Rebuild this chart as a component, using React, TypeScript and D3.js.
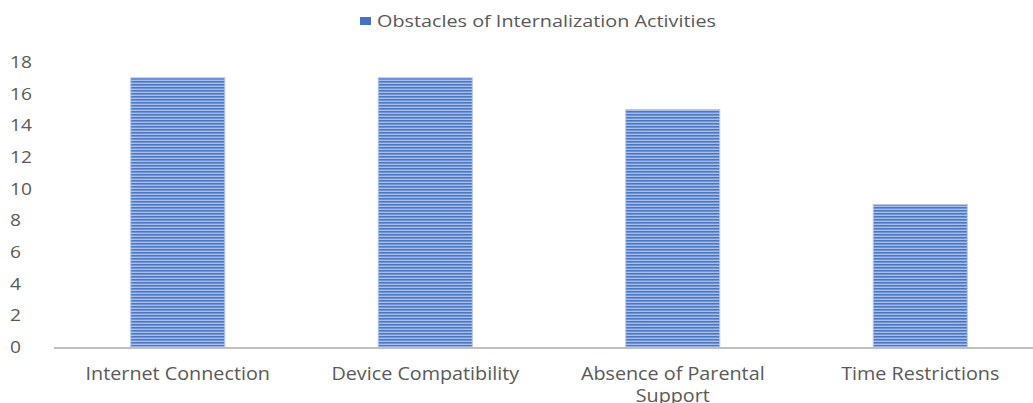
import React from "react";
import * as d3 from "d3";

const categories = ["Internet Connection", "Device Compatibility", "Absence of Parental Support", "Time Restrictions"];
const categoryLines = [["Internet Connection"], ["Device Compatibility"], ["Absence of Parental", "Support"], ["Time Restrictions"]];
const values = [17, 17, 15, 9];
const yTicks = [0, 2, 4, 6, 8, 10, 12, 14, 16, 18];
const seriesName = "Obstacles of Internalization Activities";

export default function App() {
  const W = 1033, H = 403;
  const x = d3.scaleBand<string>().domain(categories).range([54, 1044]).paddingInner(0.62).paddingOuter(0.31);
  const y = d3.scaleLinear().domain([0, 18]).range([347, 62]);
  const font = "'Open Sans', 'DejaVu Sans', sans-serif";
  const textColor = "#595959";
  const sx = 1.13;
  return (
    <div style={{ position: "absolute", left: 0, top: 0 }}>
      <svg width={W} height={H} style={{ display: "block", background: "#fff" }}>
        <defs>
          <pattern id="stripes" width={4} height={3} patternUnits="userSpaceOnUse">
            <rect width={4} height={3} fill="#a9bfe8" />
            <rect width={4} height={1.6} fill="#4a76c6" />
          </pattern>
        </defs>
        {/* legend */}
        <rect x={360} y={17} width={11} height={8} fill="#4472c4" />
        <text x={377} y={27} fontFamily={font} fontSize={17} fill={textColor} textLength={339} lengthAdjust="spacingAndGlyphs">{seriesName}</text>
        {/* y ticks */}
        {yTicks.map((t) => (
          <g key={t} transform={`translate(10,${y(t)}) scale(${sx},1)`}>
            <text x={0} y={0} dy="0.36em" fontFamily={font} fontSize={17} fill={textColor}>{t}</text>
          </g>
        ))}
        {/* bars */}
        {categories.map((c, i) => (
          <rect key={c} x={x(c)} y={y(values[i])} width={x.bandwidth()} height={y(0) - y(values[i])}
            fill="url(#stripes)" stroke="#b4c7ea" strokeWidth={1} />
        ))}
        {/* axis */}
        <line x1={54} x2={W} y1={348} y2={348} stroke="#c0c0c0" strokeWidth={2} />
        {categories.map((c, i) => (
          <g key={c} transform={`translate(${(x(c) as number) + x.bandwidth() / 2},380) scale(${sx},1)`}>
            <text x={0} y={0} textAnchor="middle" fontFamily={font} fontSize={17.5} fill={textColor}>
              {categoryLines[i].map((l, j) => (
                <tspan key={j} x={0} dy={j === 0 ? 0 : 22}>{l}</tspan>
              ))}
            </text>
          </g>
        ))}
      </svg>
    </div>
  );
}
